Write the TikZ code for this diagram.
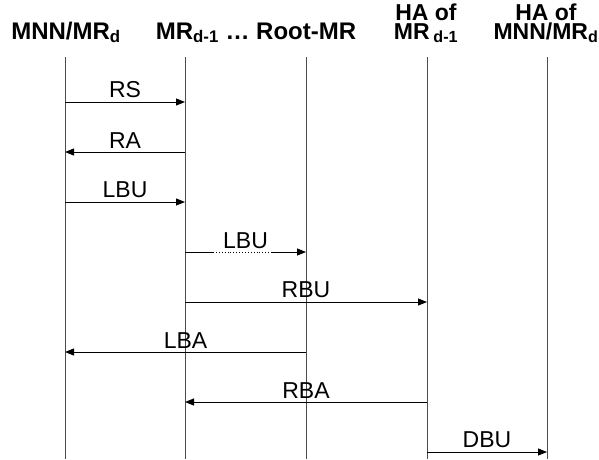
\documentclass[tikz,border=0pt]{standalone}
\usepackage{fontspec}
\setmainfont{Liberation Sans}
\usetikzlibrary{arrows.meta, positioning, calc}

\begin{document}
\begin{tikzpicture}[
			x=1pt, y=-1pt,
			head/.style={
				font=\fontsize{24}{18.5}\selectfont\bfseries,
				align=center,
				inner sep=0pt,
				anchor=base
			},
			life/.style={
				draw=black!70,
				line width=0.8pt
			},
			msg/.style={
				-{Triangle[length=9pt, width=7pt]},
				line width=0.9pt
			},
			msglabel/.style={
				font=\fontsize{23}{25}\selectfont,
				above=3.5pt,
				inner sep=0pt
			}
			]
			
			% Frame of the picture
			\useasboundingbox (0,0) rectangle (599,459);
			
			% Lifeline heads
			\node[head] (mnn) at (66,39) {MNN/MR\textsubscript{d}};
			\node[head] (mr) at (256,39) {MR\textsubscript{d-1} … Root-MR};
			\node[head, font=\fontsize{23}{18.5}\selectfont\bfseries] (ham) at (426,39) {HA of\\MR\,\textsubscript{d-1}};
			\node[head, font=\fontsize{23}{18.5}\selectfont\bfseries] (hamnn) at (546,39) {HA of\\MNN/MR\textsubscript{d}};
			
			% Lifelines
			\coordinate (mnn-top) at (65,57);
			\coordinate (mr-top) at (185,57);
			\coordinate (root-top) at (306,57);
			\coordinate (ham-top) at (427,57);
			\coordinate (hamnn-top) at (547,57);
			\coordinate (mnn-bot) at (65,459);
			\coordinate (mr-bot) at (185,459);
			\coordinate (root-bot) at (306,459);
			\coordinate (ham-bot) at (427,459);
			\coordinate (hamnn-bot) at (547,459);
			\draw[life] (mnn-top) -- (mnn-bot);
			\draw[life] (mr-top) -- (mr-bot);
			\draw[life] (root-top) -- (root-bot);
			\draw[life] (ham-top) -- (ham-bot);
			\draw[life] (hamnn-top) -- (hamnn-bot);
			
			% RS: MNN -> MR
			\coordinate (rs-a) at (mnn-top |- 0,102);
			\coordinate (rs-b) at (mr-top |- 0,102);
			\draw[msg] (rs-a) -- node[msglabel] {RS} (rs-b);
			
			% RA: MR -> MNN
			\coordinate (ra-a) at (mr-top |- 0,152);
			\coordinate (ra-b) at (mnn-top |- 0,152);
			\draw[msg] (ra-a) -- node[msglabel] {RA} (ra-b);
			
			% LBU: MNN -> MR
			\coordinate (lbu-a) at (mnn-top |- 0,202);
			\coordinate (lbu-b) at (mr-top |- 0,202);
			\draw[msg] (lbu-a) -- node[msglabel] {LBU} (lbu-b);
			
			% LBU forwarded up to Root-MR (dotted middle)
			\coordinate (fwd-a) at (mr-top |- 0,252);
			\coordinate (fwd-b) at (root-top |- 0,252);
			\coordinate (fwd-c) at ($(fwd-a)+(28,0)$);
			\coordinate (fwd-d) at ($(fwd-b)+(-34,0)$);
			\draw[line width=0.9pt] (fwd-a) -- (fwd-c);
			\draw[line width=0.9pt, dotted] (fwd-c) -- (fwd-d);
			\draw[msg] (fwd-d) -- (fwd-b);
			\node[msglabel] (fwd-label) at ($(fwd-a)!0.5!(fwd-b)$) {LBU};
			
			% RBU: MR -> HA of MR
			\coordinate (rbu-a) at (mr-top |- 0,302);
			\coordinate (rbu-b) at (ham-top |- 0,302);
			\draw[msg] (rbu-a) -- node[msglabel] {RBU} (rbu-b);
			
			% LBA: Root-MR -> MNN
			\coordinate (lba-a) at (root-top |- 0,352);
			\coordinate (lba-b) at (mnn-top |- 0,352);
			\draw[msg] (lba-a) -- node[msglabel] {LBA} (lba-b);
			
			% RBA: HA of MR -> MR
			\coordinate (rba-a) at (ham-top |- 0,402);
			\coordinate (rba-b) at (mr-top |- 0,402);
			\draw[msg] (rba-a) -- node[msglabel] {RBA} (rba-b);
			
			% DBU: HA of MR -> HA of MNN
			\coordinate (dbu-a) at (ham-top |- 0,452);
			\coordinate (dbu-b) at (hamnn-top |- 0,452);
			\draw[msg] (dbu-a) -- node[msglabel] {DBU} (dbu-b);
			
		\end{tikzpicture}
\end{document}
